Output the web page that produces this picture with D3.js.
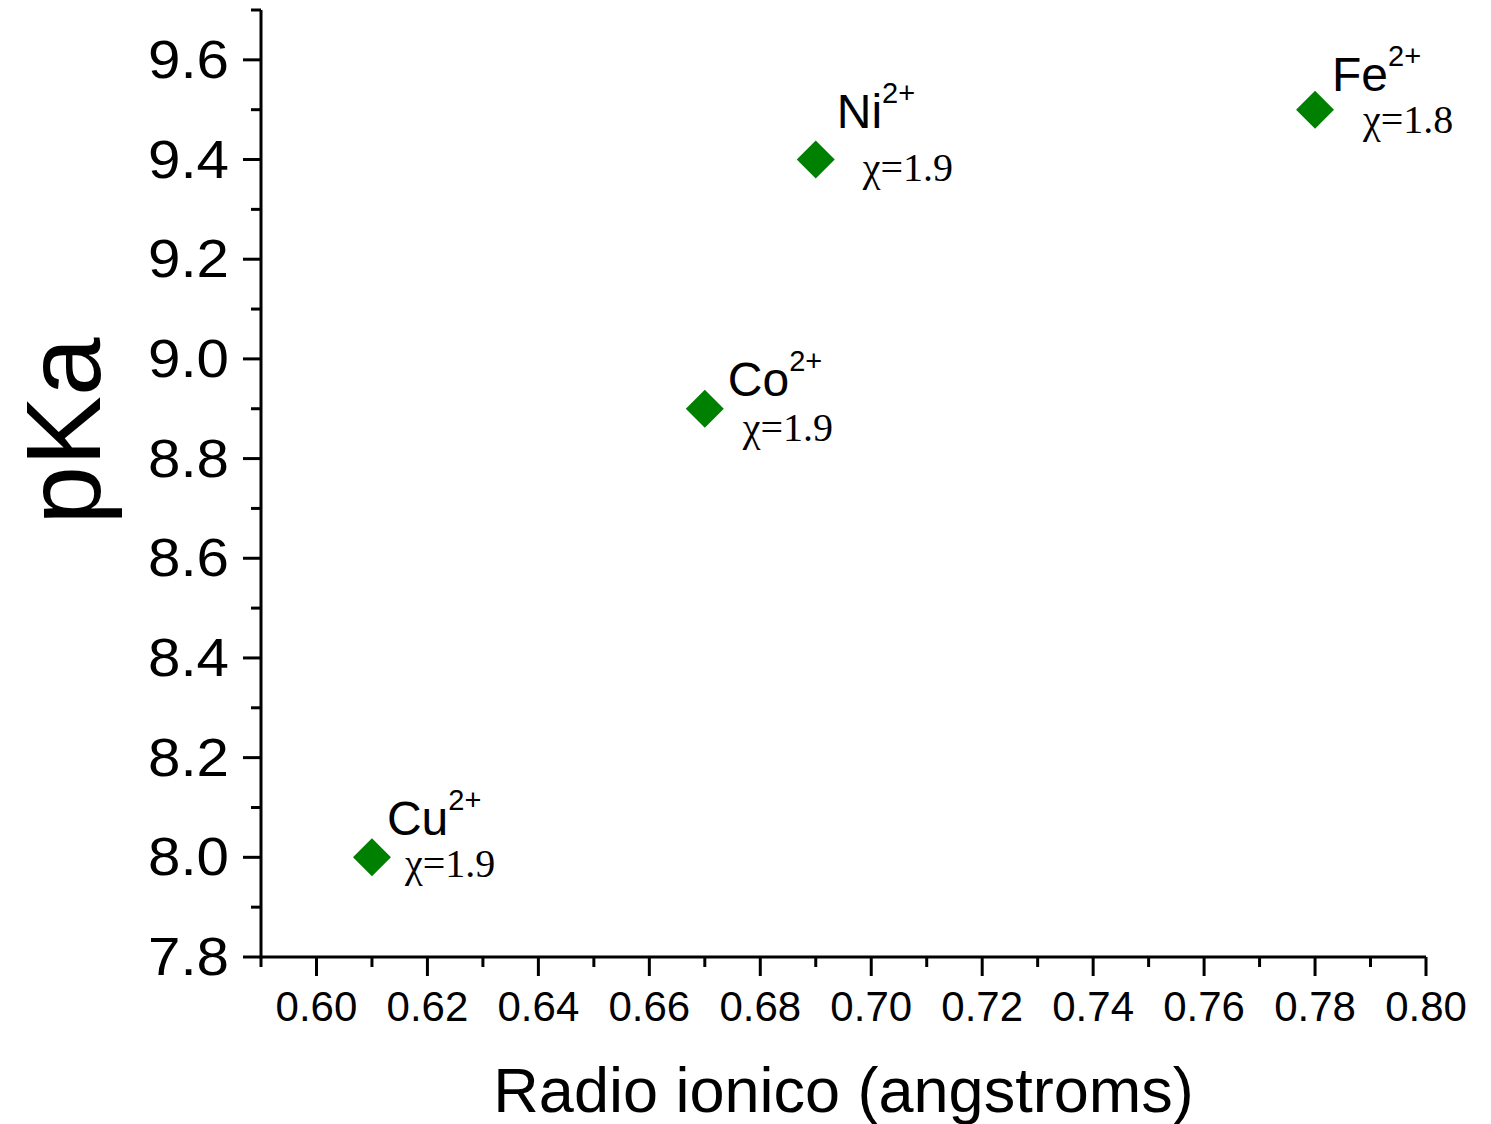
<!DOCTYPE html>
<html>
<head>
<meta charset="utf-8">
<script src="https://cdn.jsdelivr.net/npm/d3@7"></script>
<style>
  html, body { margin: 0; padding: 0; background: #fff; }
  svg { display: block; }
</style>
</head>
<body>
<script>
// ---- data ----
const ions = ["Cu", "Co", "Ni", "Fe"];
const charges = ["2+", "2+", "2+", "2+"];
const radius = [0.61, 0.67, 0.69, 0.78];
const pKa = [8.0, 8.9, 9.4, 9.5];
const electroneg = ["1.9", "1.9", "1.9", "1.8"];
const xTicks = [0.60, 0.62, 0.64, 0.66, 0.68, 0.70, 0.72, 0.74, 0.76, 0.78, 0.80];
const yTicks = [7.8, 8.0, 8.2, 8.4, 8.6, 8.8, 9.0, 9.2, 9.4, 9.6];
const xTitle = "Radio ionico (angstroms)";
const yTitle = "pKa";

// annotation offsets (px) from each marker: [name dx, name dy, chi dx, chi dy]
const labelOffsets = [[15, -22, 33, 20], [23, -13, 38, 32], [21, -32, 47, 21], [17, -19, 48, 23]];

const W = 1491, H = 1124;
const svg = d3.select("body").append("svg").attr("width", W).attr("height", H);

const x = d3.scaleLinear().domain([0.59, 0.80]).range([261, 1426]);
const y = d3.scaleLinear().domain([7.8, 9.7]).range([957, 10]);

const sans = "'Liberation Sans', Arial, sans-serif";
const serif = "'Liberation Serif', 'Times New Roman', serif";

// minor ticks
const xMinor = d3.range(0, 11).map(i => 0.59 + i * 0.02);
const yMinor = d3.range(0, 10).map(i => 7.9 + i * 0.2);

// X axis
const gx = svg.append("g").attr("transform", `translate(0,${y(7.8)})`);
gx.append("line").attr("x1", x(0.59)).attr("x2", x(0.80)).attr("stroke", "#000").attr("stroke-width", 3);
gx.selectAll("line.maj").data(xTicks).join("line").attr("class", "maj")
  .attr("x1", d => x(d)).attr("x2", d => x(d)).attr("y1", 0).attr("y2", 19)
  .attr("stroke", "#000").attr("stroke-width", 3);
gx.selectAll("line.min").data(xMinor).join("line").attr("class", "min")
  .attr("x1", d => x(d)).attr("x2", d => x(d)).attr("y1", 0).attr("y2", 10)
  .attr("stroke", "#000").attr("stroke-width", 3);
gx.selectAll("text").data(xTicks).join("text")
  .attr("x", d => x(d)).attr("y", 64)
  .attr("text-anchor", "middle")
  .style("font-family", sans).style("font-size", "42px")
  .text(d => d.toFixed(2));

// Y axis
const gy = svg.append("g").attr("transform", `translate(${x(0.59)},0)`);
gy.append("line").attr("y1", y(7.8) + 1.5).attr("y2", y(9.7)).attr("stroke", "#000").attr("stroke-width", 3);
gy.selectAll("line.maj").data(yTicks).join("line").attr("class", "maj")
  .attr("y1", d => y(d)).attr("y2", d => y(d)).attr("x1", 0).attr("x2", -18)
  .attr("stroke", "#000").attr("stroke-width", 3);
gy.selectAll("line.min").data(yMinor).join("line").attr("class", "min")
  .attr("y1", d => y(d)).attr("y2", d => y(d)).attr("x1", 0).attr("x2", -10)
  .attr("stroke", "#000").attr("stroke-width", 3);
gy.selectAll("text").data(yTicks).join("text")
  .attr("transform", d => `translate(-32,${y(d) + 18}) scale(1.1,1)`)
  .attr("text-anchor", "end")
  .style("font-family", sans).style("font-size", "53px")
  .text(d => d.toFixed(1));

// axis titles
svg.append("text")
  .attr("x", (x(0.59) + x(0.80)) / 2).attr("y", 1112)
  .attr("text-anchor", "middle")
  .style("font-family", sans).style("font-size", "63px")
  .text(xTitle);
svg.append("text")
  .attr("transform", "translate(100,431) rotate(-90)")
  .attr("text-anchor", "middle")
  .style("font-family", sans).style("font-size", "105px")
  .text(yTitle);

// points
const pts = ions.map((n, i) => ({ name: n, charge: charges[i], xv: radius[i], yv: pKa[i], chi: electroneg[i], off: labelOffsets[i] }));
const sym = d3.symbol().type(d3.symbolSquare).size(720);
svg.selectAll("path.pt").data(pts).join("path").attr("class", "pt")
  .attr("d", sym)
  .attr("transform", d => `translate(${x(d.xv)},${y(d.yv)}) rotate(45)`)
  .attr("fill", "#008000");

// labels
const nameText = svg.selectAll("text.name").data(pts).join("text").attr("class", "name")
  .attr("x", d => x(d.xv) + d.off[0]).attr("y", d => y(d.yv) + d.off[1])
  .style("font-family", sans).style("font-size", "48px");
nameText.append("tspan").text(d => d.name);
nameText.append("tspan").attr("dy", -25).style("font-size", "29px").text(d => d.charge);

svg.selectAll("text.chi").data(pts).join("text").attr("class", "chi")
  .attr("x", d => x(d.xv) + d.off[2]).attr("y", d => y(d.yv) + d.off[3])
  .style("font-family", serif).style("font-size", "40px")
  .text(d => "χ=" + d.chi);
</script>
</body>
</html>
